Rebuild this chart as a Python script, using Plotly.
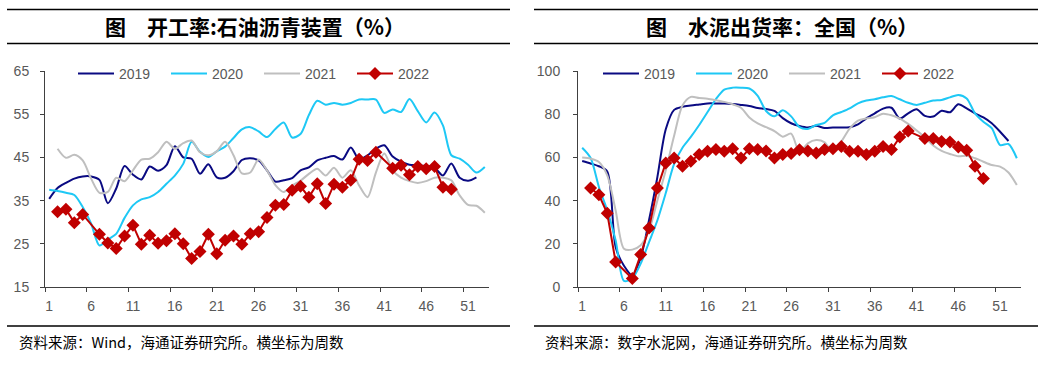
import plotly.graph_objects as go

weeks = list(range(1, 54))
tick_weeks = [1, 6, 11, 16, 21, 26, 31, 36, 41, 46, 51]
tick_text = [str(w) for w in tick_weeks]
series_names = ["2019", "2020", "2021", "2022"]

# 开工率:石油沥青装置（%）
asphalt_2019 = [35.4, 37.9, 39.1, 40.1, 40.6, 40.6, 39.8, 34.4, 37.8, 43.0, 41.0, 39.9, 42.9, 41.9, 43.2,
                47.6, 45.0, 44.7, 41.2, 43.4, 40.4, 40.3, 41.8, 44.4, 44.8, 44.3, 42.0, 39.4, 39.7, 40.2,
                42.0, 42.7, 44.3, 44.9, 45.3, 44.5, 47.3, 44.5, 45.5, 47.0, 47.8, 45.2, 44.0, 43.3, 43.2,
                43.0, 42.6, 40.8, 43.6, 40.3, 39.6, 40.4, None]
asphalt_2020 = [37.5, 37.2, 36.8, 36.3, 33.5, 29.7, 24.6, 26.0, 27.3, 31.0, 33.9, 35.3, 35.8, 37.0, 38.9,
                40.8, 43.5, 48.6, 46.3, 45.1, 46.4, 47.5, 49.5, 51.5, 52.0, 51.0, 49.7, 51.6, 53.1, 49.6,
                50.4, 54.8, 58.1, 57.2, 57.6, 57.2, 57.6, 58.4, 58.4, 58.4, 55.3, 56.1, 55.5, 58.5, 55.7,
                53.1, 55.4, 52.4, 45.5, 44.7, 43.3, 41.5, 42.8]
asphalt_2021 = [None, 47.0, 44.9, 45.6, 44.3, 40.1, 36.8, 37.0, 40.3, 39.5, 42.0, 44.5, 44.7, 46.2, 48.6,
                47.0, 48.3, 48.9, 46.2, 45.5, 46.4, 48.6, 45.5, 41.3, 41.5, 44.5, 42.0, 38.6, 37.0, 38.5,
                39.6, 41.2, 42.4, 40.8, 42.6, 40.3, 42.0, 38.5, 35.8, 41.5, 45.9, 42.0, 40.3, 39.5, 39.1,
                39.5, 40.3, 40.3, 39.7, 36.2, 34.0, 33.8, 32.2]
asphalt_2022 = [None, 32.4, 33.0, 29.9, 31.8, None, 27.2, 25.2, 23.9, 26.8, 29.3, 24.9, 27.0, 25.1, 25.7,
                27.3, 25.0, 21.6, 23.2, 27.2, 22.7, 25.8, 26.8, 24.9, 27.3, 27.8, 31.1, 33.9, 34.1, 37.4,
                38.3, 35.8, 38.9, 34.3, 38.8, 38.1, 39.7, 44.6, 44.3, 46.2, None, 42.5, 43.2, 41.0, 42.9,
                42.4, 42.9, 38.1, 37.6, None, None, None, None]

# 水泥出货率：全国（%）
cement_2019 = [58.3, 57.2, 55.9, 53.5, 18.5, 9.8, 5.4, 13.5, 31.0, 51.0, 73.0, 82.0, 83.4, 84.0, 84.5,
               85.0, 85.0, 84.9, 84.7, 84.3, 83.8, 82.9, 82.4, 81.5, 78.2, 75.8, 74.5, 73.8, 74.6, 73.6,
               73.8, 73.8, 74.0, 75.3, 78.1, 80.4, 82.6, 83.0, 78.0, 80.4, 82.3, 79.2, 78.9, 81.6, 80.9,
               84.6, 82.7, 80.4, 78.5, 75.8, 71.9, 67.6, None]
cement_2020 = [64.5, 59.8, 46.3, 35.5, 21.6, 2.8, 4.0, 10.8, 20.8, 30.9, 43.5, 57.0, 64.5, 69.5, 75.0,
               81.0, 87.0, 91.4, 92.3, 92.3, 91.9, 88.5, 81.5, 79.0, 81.8, 79.0, 74.0, 73.2, 75.0, 76.0,
               79.5, 81.0, 82.7, 85.0, 86.3, 86.9, 87.8, 88.4, 86.9, 85.3, 84.3, 85.3, 86.3, 86.6, 87.8,
               88.9, 87.3, 80.4, 76.5, 73.5, 65.7, 66.2, 59.6]
cement_2021 = [59.9, 59.4, 57.9, 51.7, 35.5, 17.7, 17.3, 19.3, 26.2, 40.1, 54.0, 70.0, 84.0, 88.0, 87.5,
               87.2, 86.5, 85.7, 84.6, 83.0, 78.5, 75.7, 74.0, 72.2, 69.6, 71.0, 62.5, 66.5, 68.0, 67.0,
               62.5, 67.3, 73.3, 77.0, 78.0, 78.6, 80.2, 79.5, 78.0, 75.5, 72.5, 69.3, 65.5, 63.0, 61.6,
               60.5, 60.8, 59.6, 58.0, 56.5, 55.7, 53.0, 47.2]
cement_2022 = [None, 45.8, 42.7, 34.1, 11.6, None, 3.9, 15.0, 27.3, 45.8, 57.4, 59.7, 55.9, 58.2, 61.4,
               62.8, 63.6, 62.8, 64.0, 59.7, 64.0, 63.6, 63.0, 59.7, 61.3, 61.8, 63.5, 63.0, 62.0, 63.6,
               64.0, 65.1, 62.8, 62.8, 61.3, 62.8, 65.1, 63.6, 69.4, 72.2, None, 68.7, 68.7, 67.4, 67.1,
               64.8, 63.3, 55.9, 50.2, None, None, None, None]

left_title = "图\u3000开工率:石油沥青装置（%）"
right_title = "图\u3000水泥出货率：全国（%）"
left_source = "资料来源：Wind，海通证券研究所。横坐标为周数"
right_source = "资料来源：数字水泥网，海通证券研究所。横坐标为周数"

colors = ["#0A0A82", "#1EC8F5", "#BFBFBF", "#C00000"]

W, H = 1060, 371


def px_x(p):
    return p / W


def px_y(p):
    return 1 - p / H


fig = go.Figure()

panels = [
    (["x", "y"], [asphalt_2019, asphalt_2020, asphalt_2021, asphalt_2022], "legend"),
    (["x2", "y2"], [cement_2019, cement_2020, cement_2021, cement_2022], "legend2"),
]
for (xa, ya), data, lg in panels:
    for name, vals, col in zip(series_names, data, colors):
        if name == "2022":
            fig.add_trace(go.Scatter(
                x=weeks, y=vals, name=name, xaxis=xa, yaxis=ya, legend=lg,
                mode="lines+markers", connectgaps=True,
                line=dict(color=col, width=2),
                marker=dict(symbol="diamond", size=10, color=col),
            ))
        else:
            fig.add_trace(go.Scatter(
                x=weeks, y=vals, name=name, xaxis=xa, yaxis=ya, legend=lg,
                mode="lines", connectgaps=False,
                line=dict(color=col, width=2, shape="spline", smoothing=0.8),
            ))

tickfont = dict(family="Arial, Liberation Sans, sans-serif", size=14, color="#595959")
axis_common = dict(showgrid=False, zeroline=False, showline=True, linecolor="#404040", linewidth=1,
                   ticks="outside", ticklen=4, tickcolor="#404040", tickfont=tickfont, automargin=False)

xax = dict(range=[0.5, 53.5], tickmode="array", tickvals=tick_weeks, ticktext=tick_text, ticks="",
           minor=dict(tick0=0.5, dtick=5, ticks="outside", ticklen=4, tickcolor="#404040", showgrid=False),
           ticklabelstandoff=6)
x_axis_kw = {**axis_common, **xax}

legend_common = dict(orientation="h", xanchor="left", yanchor="top", bgcolor="rgba(0,0,0,0)",
                     font=tickfont, entrywidth=42, entrywidthmode="pixels", itemwidth=36,
                     traceorder="normal", borderwidth=0)

y_dom = [px_y(287), px_y(71)]
fig.update_layout(
    width=W, height=H,
    margin=dict(l=0, r=0, t=0, b=0, autoexpand=False),
    paper_bgcolor="white", plot_bgcolor="white",
    xaxis=dict(domain=[px_x(45), px_x(489)], anchor="y", **x_axis_kw),
    yaxis=dict(domain=y_dom, anchor="x", range=[15, 65], tickvals=[15, 25, 35, 45, 55, 65],
               ticklabelstandoff=8, **axis_common),
    xaxis2=dict(domain=[px_x(578), px_x(1021)], anchor="y2", **x_axis_kw),
    yaxis2=dict(domain=y_dom, anchor="x2", range=[0, 100], tickvals=[0, 20, 40, 60, 80, 100],
                ticklabelstandoff=10, **axis_common),
    legend=dict(x=px_x(73), y=px_y(58), **legend_common),
    legend2=dict(x=px_x(598), y=px_y(58), **legend_common),
    showlegend=True,
)

title_font = dict(family="Noto Sans CJK SC", size=21, color="black", weight="bold")
src_font = dict(family="Noto Sans CJK SC", size=14.5, color="black")

shapes = []
for x0, x1 in [(7, 510), (534, 1038)]:
    for yy, wdt in [(9.5, 1.5), (43.5, 1.5), (326, 1.5)]:
        shapes.append(dict(type="line", xref="paper", yref="paper", x0=px_x(x0), x1=px_x(x1),
                           y0=px_y(yy), y1=px_y(yy), line=dict(color="black", width=wdt)))
fig.update_layout(shapes=shapes)

fig.add_annotation(text=left_title, xref="paper", yref="paper", x=px_x(255), y=px_y(26.5),
                   xanchor="center", yanchor="middle", showarrow=False, font=title_font)
fig.add_annotation(text=right_title, xref="paper", yref="paper", x=px_x(782), y=px_y(26.5),
                   xanchor="center", yanchor="middle", showarrow=False, font=title_font)
fig.add_annotation(text=left_source, xref="paper", yref="paper", x=px_x(17), y=px_y(341),
                   xanchor="left", yanchor="middle", showarrow=False, font=src_font)
fig.add_annotation(text=right_source, xref="paper", yref="paper", x=px_x(543), y=px_y(341),
                   xanchor="left", yanchor="middle", showarrow=False, font=src_font)

fig.write_html("out.html", config={"displayModeBar": False},
               post_script="document.body.style.margin='0';document.body.style.overflow='hidden';")
